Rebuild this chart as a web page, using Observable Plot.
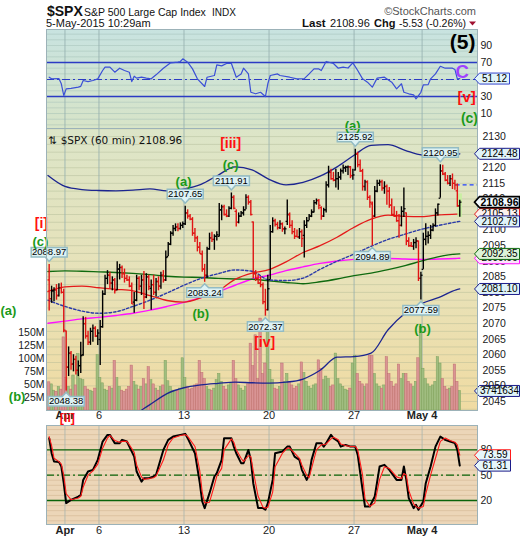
<!DOCTYPE html>
<html>
<head>
<meta charset="utf-8">
<title>$SPX 60 min</title>
<script src="https://cdn.jsdelivr.net/npm/d3@7"></script>
<script src="https://cdn.jsdelivr.net/npm/@observablehq/plot@0.6"></script>
<style>
  html, body { margin: 0; padding: 0; background: #fff; }
  #chart { position: relative; width: 520px; height: 540px; overflow: hidden; font-family: "Liberation Sans", Arial, sans-serif; }
  #chart .panel { position: absolute; left: 46px; width: 431px; }
  #rsi-bg { top: 29px; height: 99px; background: linear-gradient(#c8e3e0, #d7e4c8); }
  #price-bg { top: 128px; height: 282px; background: linear-gradient(#dce5c8, #e8e2b8 55%, #f0dba2); }
  #stoch-bg { top: 425px; height: 99px; background: #ecd6b8; }
</style>
</head>
<body>
<div id="chart">
  <div class="panel" id="rsi-bg"></div>
  <div class="panel" id="price-bg"></div>
  <div class="panel" id="stoch-bg"></div>
  <svg style="position:absolute;left:0;top:0" width="520" height="30" font-family="Liberation Sans, Arial, sans-serif" fill="#111">
    <text x="47" y="15.5" font-size="14" font-weight="bold">$SPX</text>
    <text x="84" y="15.5" font-size="10.5">S&amp;P 500 Large Cap Index</text>
    <text x="212" y="15.5" font-size="10">INDX</text>
    <text x="476" y="15" font-size="11" fill="#555" text-anchor="end">©StockCharts.com</text>
    <text x="46" y="26.5" font-size="11">5-May-2015 10:29am</text>
    <text x="302" y="26.5" font-size="11.5" font-weight="bold">Last</text>
    <text x="330" y="26.5" font-size="11">2108.96</text>
    <text x="374" y="26.5" font-size="11" font-weight="bold">Chg</text>
    <text x="399" y="26.5" font-size="10.5">-5.53 (-0.26%)</text>
    <path d="M469,21.5 L476,21.5 L472.5,25.5 Z" fill="#a01030"/>
  </svg>
</div>
<script>
// ---- hourly bars: [open, high, low, close], Mar 31 through May 5 10:29am ----
const bars = [
  // Mar 31
  [2084.0, 2088.97, 2074.0, 2078.0], [2078.0, 2082.0, 2076.5, 2080.5], [2080.5, 2081.5, 2077.0, 2080.8],
  [2080.8, 2082.5, 2077.5, 2079.0], [2079.0, 2082.8, 2078.5, 2081.5], [2081.5, 2083.0, 2079.5, 2080.0],
  [2080.0, 2081.0, 2067.04, 2067.9],
  // Apr 1
  [2067.6, 2067.6, 2048.38, 2056.0], [2056.0, 2062.5, 2053.0, 2060.5], [2060.5, 2061.0, 2055.0, 2057.0],
  [2057.0, 2060.0, 2054.5, 2058.5], [2058.5, 2059.5, 2053.5, 2055.0], [2055.0, 2058.0, 2053.0, 2056.5],
  [2056.5, 2064.0, 2054.0, 2059.7],
  // Apr 2
  [2060.0, 2072.17, 2059.5, 2070.0], [2070.0, 2072.0, 2065.0, 2066.0], [2066.0, 2067.5, 2063.0, 2064.0],
  [2064.0, 2068.5, 2063.0, 2067.5], [2067.5, 2069.5, 2064.0, 2068.5], [2068.5, 2069.0, 2065.5, 2066.0],
  [2066.0, 2068.0, 2063.0, 2066.96],
  // Apr 6
  [2064.9, 2071.0, 2056.52, 2069.0], [2069.0, 2080.5, 2068.5, 2079.5], [2079.5, 2085.5, 2079.0, 2084.5],
  [2084.5, 2086.99, 2082.5, 2085.5], [2085.5, 2086.5, 2081.0, 2083.0], [2083.0, 2085.0, 2080.5, 2084.0],
  [2084.0, 2084.5, 2079.5, 2080.6],
  // Apr 7
  [2080.8, 2089.81, 2080.5, 2087.5], [2087.5, 2089.0, 2084.0, 2088.0], [2088.0, 2088.5, 2084.5, 2086.0],
  [2086.0, 2087.5, 2083.0, 2084.5], [2084.5, 2085.5, 2083.5, 2084.0], [2084.0, 2085.0, 2081.5, 2082.0],
  [2082.0, 2083.0, 2076.1, 2076.3],
  // Apr 8
  [2076.9, 2080.0, 2073.3, 2077.5], [2077.5, 2085.5, 2077.0, 2084.5], [2084.5, 2085.0, 2080.5, 2082.0],
  [2082.0, 2085.5, 2079.0, 2084.0], [2084.0, 2086.69, 2074.5, 2078.5], [2078.5, 2086.0, 2078.0, 2085.0],
  [2085.0, 2085.5, 2080.5, 2081.9],
  // Apr 9
  [2081.3, 2084.0, 2074.29, 2082.5], [2082.5, 2085.5, 2079.0, 2080.0], [2080.0, 2084.5, 2078.5, 2083.5],
  [2083.5, 2085.0, 2080.5, 2082.0], [2082.0, 2086.5, 2081.0, 2085.5], [2085.5, 2087.0, 2083.0, 2084.0],
  [2084.0, 2093.31, 2083.5, 2091.2],
  // Apr 10
  [2091.5, 2096.0, 2091.5, 2095.5], [2095.5, 2099.5, 2095.0, 2099.0], [2099.0, 2101.5, 2098.0, 2100.5],
  [2100.5, 2102.0, 2099.5, 2101.0], [2101.0, 2102.0, 2099.5, 2100.5], [2100.5, 2102.3, 2100.0, 2101.5],
  [2101.5, 2102.61, 2100.5, 2102.06],
  // Apr 13
  [2102.0, 2107.65, 2101.5, 2105.5], [2105.5, 2106.5, 2103.5, 2104.5], [2104.5, 2105.0, 2103.0, 2103.5],
  [2103.5, 2104.0, 2098.0, 2099.0], [2099.0, 2100.5, 2096.0, 2097.5], [2097.5, 2098.0, 2093.0, 2094.5],
  [2094.5, 2096.0, 2092.33, 2092.43],
  // Apr 14
  [2092.3, 2093.31, 2086.5, 2087.5], [2087.5, 2089.0, 2083.24, 2085.5], [2085.5, 2094.5, 2084.5, 2094.0],
  [2094.0, 2099.0, 2093.5, 2097.5], [2097.5, 2099.3, 2096.0, 2097.0], [2097.0, 2098.5, 2093.5, 2098.0],
  [2098.0, 2099.5, 2096.5, 2098.5],
  // Apr 15
  [2098.0, 2108.5, 2097.8, 2106.5], [2106.5, 2108.0, 2103.0, 2107.5], [2107.5, 2108.0, 2104.5, 2105.0],
  [2105.0, 2106.5, 2104.0, 2104.5], [2104.5, 2107.5, 2104.0, 2107.0], [2107.0, 2111.91, 2106.5, 2110.5],
  [2110.5, 2111.0, 2106.5, 2107.0],
  // Apr 16
  [2106.0, 2106.5, 2101.0, 2102.5], [2102.5, 2105.5, 2102.0, 2104.5], [2104.5, 2106.0, 2104.0, 2105.5],
  [2105.5, 2107.5, 2104.5, 2106.5], [2106.5, 2111.3, 2106.5, 2110.5], [2110.5, 2111.0, 2108.0, 2109.0],
  [2109.0, 2109.5, 2104.5, 2105.0],
  // Apr 17
  [2102.6, 2102.6, 2084.5, 2086.0], [2086.0, 2087.0, 2083.5, 2084.5], [2084.5, 2085.5, 2082.5, 2083.0],
  [2083.0, 2085.0, 2081.5, 2082.5], [2082.5, 2083.0, 2076.0, 2077.0], [2077.0, 2081.0, 2072.37, 2074.5],
  [2074.5, 2085.5, 2074.0, 2081.18],
  // Apr 20
  [2084.1, 2101.5, 2084.1, 2099.5], [2099.5, 2103.94, 2099.0, 2103.0], [2103.0, 2103.5, 2101.0, 2101.8],
  [2101.8, 2102.5, 2100.0, 2100.8], [2100.8, 2103.0, 2100.2, 2102.0], [2102.0, 2102.3, 2099.3, 2100.4],
  [2100.4, 2101.0, 2098.5, 2100.4],
  // Apr 21
  [2102.8, 2109.64, 2101.5, 2105.0], [2105.0, 2105.5, 2100.5, 2101.5], [2101.5, 2103.0, 2098.5, 2099.5],
  [2099.5, 2100.5, 2097.0, 2098.0], [2098.0, 2100.0, 2097.5, 2097.8], [2097.8, 2100.5, 2097.0, 2099.5],
  [2099.5, 2100.0, 2094.38, 2097.29],
  // Apr 22
  [2098.3, 2103.0, 2091.05, 2101.5], [2101.5, 2104.0, 2100.5, 2103.0], [2103.0, 2105.0, 2103.0, 2104.5],
  [2104.5, 2106.5, 2104.0, 2105.8], [2105.8, 2109.5, 2105.5, 2108.8], [2108.8, 2109.98, 2108.0, 2109.5],
  [2109.5, 2109.8, 2106.5, 2107.96],
  // Apr 23
  [2107.2, 2107.5, 2103.19, 2104.5], [2104.5, 2107.0, 2104.0, 2106.5], [2106.5, 2115.5, 2105.5, 2114.5],
  [2114.5, 2120.49, 2113.5, 2118.5], [2118.5, 2119.5, 2116.0, 2116.5], [2116.5, 2118.5, 2115.5, 2116.0],
  [2116.0, 2119.5, 2113.5, 2116.5],
  // Apr 24
  [2116.5, 2118.5, 2112.8, 2117.0], [2117.0, 2119.6, 2116.0, 2119.0], [2119.0, 2120.92, 2118.0, 2120.0],
  [2120.0, 2120.5, 2118.5, 2120.2], [2120.2, 2120.6, 2117.5, 2120.3], [2120.3, 2120.4, 2116.5, 2117.5],
  [2117.5, 2119.5, 2116.0, 2117.69],
  // Apr 27
  [2119.3, 2125.92, 2119.0, 2124.5], [2124.5, 2125.0, 2120.0, 2121.0], [2121.0, 2122.5, 2118.5, 2119.0],
  [2119.0, 2119.5, 2112.5, 2114.0], [2114.0, 2116.0, 2112.5, 2115.5], [2115.5, 2115.8, 2109.5, 2110.5],
  [2110.5, 2111.0, 2107.04, 2108.92],
  // Apr 28
  [2108.4, 2109.0, 2094.89, 2104.5], [2104.5, 2114.0, 2104.0, 2112.5], [2112.5, 2116.0, 2112.0, 2115.0],
  [2115.0, 2116.04, 2114.0, 2115.5], [2115.5, 2116.0, 2112.5, 2113.5], [2113.5, 2115.5, 2111.5, 2114.0],
  [2114.0, 2114.5, 2108.0, 2112.5],
  // Apr 29
  [2112.5, 2113.65, 2107.0, 2108.0], [2108.0, 2110.0, 2104.5, 2105.0], [2105.0, 2107.5, 2104.0, 2104.5],
  [2104.5, 2106.0, 2102.5, 2103.0], [2103.0, 2105.0, 2097.41, 2101.5], [2101.5, 2107.5, 2101.0, 2106.0],
  [2106.0, 2113.5, 2104.0, 2106.85],
  // Apr 30
  [2105.5, 2105.52, 2095.0, 2096.5], [2096.5, 2097.5, 2094.5, 2095.0], [2095.0, 2096.0, 2094.5, 2094.8],
  [2094.8, 2097.0, 2093.5, 2096.0], [2096.0, 2097.5, 2094.0, 2096.5], [2096.5, 2096.5, 2083.5, 2084.5],
  [2084.5, 2086.5, 2077.59, 2085.51],
  // May 1
  [2087.4, 2099.0, 2087.38, 2097.0], [2097.0, 2102.0, 2095.0, 2098.0], [2098.0, 2099.5, 2095.5, 2098.3],
  [2098.3, 2101.5, 2097.0, 2100.0], [2100.0, 2102.0, 2099.5, 2101.5], [2101.5, 2106.8, 2101.0, 2105.5],
  [2105.5, 2108.41, 2104.5, 2108.29],
  // May 4
  [2110.23, 2120.95, 2110.23, 2119.0], [2119.0, 2120.8, 2117.5, 2118.0], [2118.0, 2118.5, 2115.5, 2116.0],
  [2116.0, 2117.5, 2114.5, 2115.0], [2115.0, 2117.5, 2114.0, 2116.5], [2116.5, 2118.0, 2113.0, 2115.0],
  [2115.0, 2116.0, 2112.8, 2114.49],
  // May 5
  [2112.6, 2114.8, 2107.3, 2107.8], [2107.8, 2109.6, 2104.1, 2108.96]
];

// hourly volume, millions of shares
const volume = [
  54, 50, 38, 36, 45, 40, 140,
  62, 45, 40, 67, 48, 108, 60,
  58, 45, 40, 38, 36, 42, 106,
  62, 52, 40, 38, 45, 42, 95,
  62, 45, 38, 36, 40, 45, 86,
  55, 48, 40, 45, 60, 50, 83,
  58, 50, 42, 38, 45, 48, 95,
  56, 45, 38, 35, 38, 42, 100,
  62, 45, 40, 42, 48, 50, 95,
  72, 60, 45, 40, 38, 42, 58,
  70, 55, 45, 40, 48, 52, 95,
  60, 48, 42, 38, 45, 50, 128,
  85, 144, 60, 176, 70, 90, 150,
  78, 58, 42, 40, 45, 90, 55,
  70, 55, 48, 42, 45, 50, 92,
  72, 55, 45, 42, 48, 50, 96,
  80, 58, 65, 60, 45, 48, 109,
  60, 50, 45, 40, 38, 42, 90,
  105, 70, 55, 50, 45, 50, 105,
  105, 70, 50, 45, 42, 48, 102,
  70, 55, 45, 50, 88, 60, 70,
  70, 55, 50, 45, 55, 100, 160,
  80, 60, 50, 45, 48, 55, 102,
  90, 60, 45, 40, 42, 45, 88,
  55, 37.41634
];
const prevClose = 2114.49;

// overlay series, sampled at each session open (bar position) and at the last bar
const overlayAt  = [-0.5, 6.5, 13.5, 20.5, 27.5, 34.5, 41.5, 48.5, 55.5, 62.5, 69.5, 76.5, 83.5, 90.5, 97.5, 104.5, 111.5, 118.5, 125.5, 132.5, 139.5, 146.5, 153.5, 160.5, 167.5, 169];
const upperBand  = [2117.5, 2114, 2113, 2112.7, 2112.6, 2112.8, 2113.2, 2112.6, 2113.2, 2114.7, 2117.6, 2120.3, 2119.3, 2116.3, 2114.5, 2115.3, 2117.3, 2120.3, 2124, 2127.2, 2127.4, 2125.6, 2124.1, 2123.9, 2124.2, 2124.48];
const redAverage = [2080.3, 2081.8, 2082, 2081.5, 2081, 2080.5, 2079, 2077.4, 2076.9, 2078.3, 2080.5, 2084.2, 2086.2, 2087.3, 2089.8, 2092.8, 2095, 2097.7, 2100.9, 2103.5, 2104.8, 2104.4, 2104.3, 2104.9, 2105.1, 2105.13];
const blueAverage = [2077.5, 2075.5, 2074, 2073.3, 2073.8, 2075.5, 2077.5, 2079.8, 2082.3, 2084.5, 2086, 2087.2, 2086.8, 2084, 2083.8, 2084.6, 2087.4, 2090, 2092.3, 2094.8, 2097, 2098.7, 2100.3, 2101.5, 2102.6, 2102.79];
const greenAverage = [2086.7, 2086.9, 2086.8, 2086.6, 2086.4, 2086.1, 2085.7, 2085.2, 2084.9, 2084.8, 2084.5, 2084.3, 2084.2, 2083.7, 2083.2, 2082.8, 2083.4, 2084.3, 2085.4, 2086.2, 2087.3, 2088.6, 2090.1, 2091.5, 2092.3, 2092.35];
const magentaAverage = [2070.1, 2070.8, 2071.5, 2072, 2072.6, 2073.3, 2074.3, 2075.5, 2076.8, 2078.3, 2080.2, 2082.3, 2084.3, 2085.5, 2087, 2088.2, 2089.3, 2090.1, 2090.6, 2090.8, 2090.9, 2090.7, 2090.6, 2090.7, 2090.9, 2090.96];
const lowerBand  = [2030, 2031, 2033, 2035, 2038, 2040.5, 2044, 2047.5, 2049.4, 2050.3, 2050.8, 2051.2, 2051, 2050.9, 2051.2, 2052.2, 2055, 2059.2, 2059.4, 2060.5, 2068, 2073.3, 2076.5, 2078.4, 2080.8, 2081.10];

// RSI(14): [bar, value]
const rsiPoints = [
  [0,52.7],[1,50.8],[4,51.2],[5,45],[6,31.2],[7,39],[9,39.6],[12,41],[13,42],[14,48.8],[16,47.6],[18,48.8],
  [20,50.8],[22,60.6],[23,64.5],[25,64.5],[27,58.6],[29,63.3],[31,60.6],[33,58.6],[34,47.6],[35,53.9],[36,51.6],
  [38,52.7],[40,51.6],[42,50.8],[44,55.5],[47,63.3],[50,69.6],[53,70.4],[54,71.2],[55,74.3],[57,70.4],[59,62.5],
  [61,50.8],[64,41.8],[65,52.7],[68,54.7],[69,67.3],[71,66],[73,68.8],[75,68.8],[77,52.7],[79,56.6],[80,63.3],
  [82,56.6],[83,35],[85,33.2],[87,35],[89,30],[90,45],[91,54.7],[94,56.6],[95,54.7],[99,52.7],[102,50.8],
  [105,51],[107,56.6],[109,62.5],[111,62.5],[112,60.6],[114,71.2],[117,68.8],[119,63.3],[121,64.5],[123,63.5],
  [125,69.6],[127,60.6],[129,50.8],[131,46.9],[133,41],[135,51.6],[138,52.7],[141,46.9],[143,39],[145,45],
  [146,35],[148,33.2],[150,32],[151,27.3],[153,35],[154,43.7],[156,44],[157,50.8],[159,56.6],[161,65.6],
  [163,63.3],[166,63.3],[167,61.8],[168,50.8],[169,51.12]
];

// Slow stochastics: [bar, %K, %D]
const stochPoints = [
  [0,93.8,95.7],[1,76,85],[2,66.1,70],[4,65.7,66],[5,60.2,63],[6,40.5,50],[7,16.9,28],[9,20.8,21],[12,24.7,23],
  [13,26.6,25],[14,44.4,36],[16,54.3,50],[18,56.3,55],[20,68.1,63],[22,89.8,82],[24,97.7,94],[25,97.7,97],
  [27,87.9,91],[29,87.9,89],[30,91.8,90],[32,89.8,90],[33,83.8,86],[35,72,77],[36,54.3,62],[38,42.4,48],
  [39,46.3,45],[41,46.3,46],[43,48.4,47],[44,50.4,49],[47,79.9,68],[49,91.8,86],[51,95.7,94],[54,97.7,97],
  [56,98.9,98],[57,93.8,96],[60,76,84],[62,40.5,55],[63,18.8,30],[64,11,17],[66,28.7,18],[68,48.4,38],
  [69,52.4,49],[71,68.1,58],[72,93.8,80],[75,93.8,93],[76,83.8,89],[77,76,80],[79,64.2,70],[80,64.2,66],
  [82,79.9,73],[83,68.1,72],[84,40.5,55],[86,11,25],[88,11,12],[89,9,11],[90,16.9,12],[92,44.4,30],[93,76,60],
  [96,78,76],[98,83.8,82],[99,83.8,82],[101,72,76],[103,68.1,70],[104,56.3,62],[106,44.4,50],[107,50.4,47],
  [108,68.1,58],[110,87.9,80],[112,87.9,86],[113,83.8,86],[114,87.9,87],[116,97.7,93],[117,93.8,95],
  [119,89.8,92],[120,83.8,87],[122,85.8,85],[124,83.8,84],[126,83.8,84],[127,74,80],[129,32.6,50],
  [130,12.9,22],[132,12.9,13],[134,24.7,17],[136,60.2,45],[138,62.2,60],[140,56.3,58],[143,44.4,48],
  [145,44.4,46],[146,60.2,52],[147,44.4,50],[148,22.8,32],[150,11,16],[151,14.9,13],[152,9,11],[154,18.8,13],
  [155,40.5,28],[157,60.2,50],[159,83.8,70],[161,95.7,90],[163,91.8,94],[165,89.8,91],[167,87.9,89],
  [168,79.9,86],[169,61.31,73.59]
];

// x-axis labels and their bar positions
const tickAt   = [6.5, 20.5, 55.5, 90.5, 125.5, 153.5];
const tickText = ["Apr", "6", "13", "20", "27", "May 4"];
const tickBold = [true, false, false, false, false, true];

const priceTicks = [2045, 2050, 2055, 2060, 2065, 2070, 2075, 2080, 2085, 2090, 2095, 2100, 2105, 2110, 2115, 2120, 2125, 2130];
const volumeTicks = [25, 50, 75, 100, 125, 150];
const rsiTicks = [10, 30, 50, 70, 90];
const stochTicks = [20, 50, 80];

// high / low callouts (bar positions)
const highCalloutBars = [0, 56, 75, 126, 161];
const lowCalloutBars  = [7, 64, 89, 133, 153];

// Elliott-wave annotations on the price pane: text, bar, price
const waveText  = ["[iii]", "(c)", "(a)", "[i]", "(c)", "(a)", "(b)", "(b)", "[iv]", "(b)", "(a)"];
const waveBar   = [74.7, 74.7, 55.3, -3.2, -3.6, -16.8, -13.2, 62.4, 88.7, 153.7, 124.9];
const wavePrice = [2127.8, 2121, 2115.6, 2102.1, 2096.3, 2074.2, 2046.6, 2073.2, 2064, 2068.4, 2133.5];
const waveIi    = {text: "[ii]", bar: 7.5, price: 2039.6};

// ---------------- drawing ----------------
const chart = document.getElementById("chart");
const FONT = "Liberation Sans, Arial, sans-serif";
const W = 520;
const X_DOMAIN = [-1.1, 176.3];
const X_RIGHT = X_DOMAIN[1];
const FRAME = "#9cb2b8";
const UP = "#000000", DOWN = "#e01414";
const GREEN = "#1a9a1a", RED = "#ff1010";
const baseStyle = {background: "none", overflow: "visible", fontFamily: FONT, fontSize: "10.5px", color: "#1a1a1a"};
const plain = d => String(d);

function place(svg, top) {
  svg.style.position = "absolute";
  svg.style.left = "0px";
  svg.style.top = top + "px";
  chart.appendChild(svg);
}

const series = (values) => overlayAt.map((i, k) => ({i, v: values[k]}));
const ohlc = bars.map(([o, h, l, c], i) => ({i, o, h, l, c, up: i === 0 ? c >= o : c >= bars[i - 1][3]}));
const vol = volume.map((v, i) => ({i, v, up: ohlc[i].up}));
const last = ohlc[ohlc.length - 1];
const xTicks = tickAt.map((i, k) => ({i, t: tickText[k], bold: tickBold[k]}));

// value tag on the right-hand scale: pointed left end, w px wide body
function tagShape(w) {
  return {draw(ctx) {
    ctx.moveTo(-3, 0); ctx.lineTo(2, -5.5); ctx.lineTo(2 + w, -5.5);
    ctx.lineTo(2 + w, 5.5); ctx.lineTo(2, 5.5); ctx.closePath();
  }};
}
function tag(value, text, {w = 40, stroke = "#1c1c8a", fill = "#dff3f8", bold = false} = {}) {
  const at = [{x: X_RIGHT, y: value}];
  return [
    Plot.dot(at, {x: "x", y: "y", symbol: tagShape(w), r: 5, fill, stroke, strokeWidth: bold ? 1.6 : 1}),
    Plot.text(at, {x: "x", y: "y", dx: 2 + w / 2, text: () => text, textAnchor: "middle",
      fontSize: bold ? 10.5 : 10, fontWeight: bold ? "bold" : "normal", fill: "#000", fontFamily: FONT})
  ];
}
// callout boxes above highs / below lows
const calloutAbove = {draw(ctx) {
  ctx.moveTo(0, -3); ctx.lineTo(-4, -7.5); ctx.lineTo(-18, -7.5); ctx.lineTo(-18, -17);
  ctx.lineTo(18, -17); ctx.lineTo(18, -7.5); ctx.lineTo(4, -7.5); ctx.closePath();
}};
const calloutBelow = {draw(ctx) {
  ctx.moveTo(0, 1.5); ctx.lineTo(4, 5.5); ctx.lineTo(18, 5.5); ctx.lineTo(18, 15);
  ctx.lineTo(-18, 15); ctx.lineTo(-18, 5.5); ctx.lineTo(-4, 5.5); ctx.closePath();
}};

// ---- RSI pane ----
const rsi = rsiPoints.map(([i, v]) => ({i, v}));
const rsiLast = rsi[rsi.length - 1].v;
place(Plot.plot({
  width: W, height: 128, marginTop: 29, marginBottom: 0, marginLeft: 46, marginRight: 43,
  style: baseStyle,
  x: {domain: X_DOMAIN, axis: null},
  y: {domain: [-7.6, 108.8], axis: "right", ticks: rsiTicks, tickFormat: plain, tickSize: 0, tickPadding: 3, label: null},
  marks: [
    Plot.ruleY(d3.range(-10 / 3, 108, 20 / 3), {stroke: "#9fbcb3", strokeOpacity: 0.45}),
    Plot.ruleX(tickAt, {stroke: "#93aeae", strokeOpacity: 0.8}),
    Plot.ruleY([70, 30], {stroke: "#2b3bc4", strokeWidth: 1.3}),
    Plot.ruleY([50], {stroke: "#2b3bc4", strokeWidth: 1.1, strokeDasharray: "8,3,2,3"}),
    Plot.line(rsi, {x: "i", y: "v", stroke: "#3b4fd6", strokeWidth: 1.2}),
    Plot.text(["(5)"], {x: () => 170.2, y: () => 93.9, text: d => d, fontSize: 21, fontWeight: "bold", fill: "#000", fontFamily: FONT}),
    Plot.text(["C"], {x: () => 170, y: () => 58.7, text: d => d, fontSize: 18.5, fontWeight: "bold", fill: "#a040ff", fontFamily: FONT}),
    Plot.text(["[v]"], {x: () => 171.8, y: () => 29, text: d => d, fontSize: 15, fontWeight: "bold", fill: RED, fontFamily: FONT}),
    Plot.text(["(c)"], {x: () => 173, y: () => 3.7, text: d => d, fontSize: 14, fontWeight: "bold", fill: GREEN, fontFamily: FONT}),
    Plot.frame({stroke: FRAME}),
    ...tag(rsiLast, rsiLast.toFixed(2), {w: 30, stroke: "#3344cc", fill: "#e2f5fa"})
  ]
}), 0);

// ---- price pane: grid layer ----
const priceY = {domain: [2042.1, 2132.6]};
place(Plot.plot({
  width: W, height: 297, marginTop: 0, marginBottom: 15, marginLeft: 46, marginRight: 43,
  style: baseStyle,
  x: {domain: X_DOMAIN, axis: null},
  y: {...priceY, axis: null},
  marks: [
    Plot.ruleY(d3.range(2042.5, 2132.6, 2.5), {stroke: "#aab592", strokeOpacity: 0.4}),
    Plot.ruleX(tickAt, {stroke: "#93aeae", strokeOpacity: 0.8})
  ]
}), 128);

// ---- price pane: volume layer ----
const lastVolume = volume[volume.length - 1];
place(Plot.plot({
  width: W, height: 297, marginTop: 0, marginBottom: 15, marginLeft: 46, marginRight: 43,
  style: baseStyle,
  x: {domain: X_DOMAIN, axis: null},
  y: {domain: [0, 540], axis: "left", ticks: volumeTicks, tickFormat: d => d + "M", tickSize: 0, tickPadding: 2, label: null},
  marks: [
    Plot.rect(vol.filter(d => d.up), {x1: d => d.i - 0.5, x2: d => d.i + 0.5, y1: 0, y2: "v", fill: "#a0bd80", stroke: "#7ea25c", strokeWidth: 0.5}),
    Plot.rect(vol.filter(d => !d.up), {x1: d => d.i - 0.5, x2: d => d.i + 0.5, y1: 0, y2: "v", fill: "#d99494", stroke: "#bf7070", strokeWidth: 0.5}),
    ...tag(lastVolume, String(Math.round(lastVolume * 1e6)).slice(0, 7), {stroke: "#1c1c8a"})
  ]
}), 128);

// ---- price pane: overlays, bars, labels ----
const highs = highCalloutBars.map(i => ({i, v: ohlc[i].h}));
const lows = lowCalloutBars.map(i => ({i, v: ohlc[i].l}));
const waves = waveText.map((t, k) => ({t, i: waveBar[k], p: wavePrice[k]}));
const bullish = ohlc.filter(d => d.up), bearish = ohlc.filter(d => !d.up);
const barMarks = (data, stroke) => [
  Plot.ruleX(data, {x: "i", y1: "l", y2: "h", stroke, strokeWidth: 1.4}),
  Plot.link(data, {x1: d => d.i - 0.7, x2: "i", y1: "o", y2: "o", stroke, strokeWidth: 1.3}),
  Plot.link(data, {x1: "i", x2: d => d.i + 0.7, y1: "c", y2: "c", stroke, strokeWidth: 1.3})
];
const curve = "monotone-x";
place(Plot.plot({
  width: W, height: 297, marginTop: 0, marginBottom: 15, marginLeft: 46, marginRight: 43,
  style: baseStyle,
  x: {domain: X_DOMAIN, axis: null},
  y: {...priceY, axis: "right", ticks: priceTicks, tickFormat: plain, tickSize: 0, tickPadding: 5, label: null},
  marks: [
    Plot.line(series(lowerBand), {x: "i", y: "v", stroke: "#1c2590", strokeWidth: 1.3, curve, clip: true}),
    Plot.line(series(magentaAverage), {x: "i", y: "v", stroke: "#ff10ff", strokeWidth: 1.4, curve}),
    Plot.line(series(greenAverage), {x: "i", y: "v", stroke: "#0f6a0f", strokeWidth: 1.4, curve}),
    Plot.line(series(blueAverage), {x: "i", y: "v", stroke: "#2a3aa8", strokeWidth: 1.4, strokeDasharray: "2.5,2", curve}),
    Plot.line(series(redAverage), {x: "i", y: "v", stroke: "#e41a1a", strokeWidth: 1.3, curve}),
    Plot.line(series(upperBand), {x: "i", y: "v", stroke: "#1c2590", strokeWidth: 1.3, curve}),
    Plot.ruleY([prevClose], {x1: () => 167.5, x2: () => X_RIGHT, stroke: "#2040ff", strokeWidth: 1.2, strokeDasharray: "4,3"}),
    Plot.rect([last], {x1: d => d.i - 0.8, x2: d => d.i + 1.1, y1: "l", y2: d => d.h + 2, fill: "#c6f0a0", fillOpacity: 0.9}),
    ...barMarks(bullish, UP),
    ...barMarks(bearish, DOWN),
    Plot.dot(highs, {x: "i", y: "v", symbol: calloutAbove, fill: "#ddf2f4", stroke: "#93bcc4"}),
    Plot.text(highs, {x: "i", y: "v", dy: -12, text: d => d.v.toFixed(2), fontSize: 9.5, fill: "#000", fontFamily: FONT}),
    Plot.dot(lows, {x: "i", y: "v", symbol: calloutBelow, fill: "#ddf2f4", stroke: "#93bcc4"}),
    Plot.text(lows, {x: "i", y: "v", dy: 10.5, text: d => d.v.toFixed(2), fontSize: 9.5, fill: "#000", fontFamily: FONT}),
    Plot.text([`\u21c5 $SPX (60 min) ${last.c.toFixed(2)}`], {frameAnchor: "top-left", dx: 2, dy: 8, textAnchor: "start",
      text: d => d, fontSize: 10.5, fill: "#111", fontFamily: "DejaVu Sans, Verdana, sans-serif"}),
    Plot.text(xTicks.filter(d => d.bold), {x: "i", frameAnchor: "bottom", dy: 8, text: "t", fontSize: 11, fontWeight: "bold", fill: "#222", fontFamily: FONT}),
    Plot.text(xTicks.filter(d => !d.bold), {x: "i", frameAnchor: "bottom", dy: 8, text: "t", fontSize: 11, fill: "#222", fontFamily: FONT}),
    Plot.text(waves.filter(d => d.t.startsWith("(")), {x: "i", y: "p", text: "t", fontSize: 13, fontWeight: "bold", fill: GREEN, fontFamily: FONT}),
    Plot.text(waves.filter(d => d.t.startsWith("[")), {x: "i", y: "p", text: "t", fontSize: 14, fontWeight: "bold", fill: RED, fontFamily: FONT}),
    Plot.text([waveIi], {x: "bar", y: "price", text: "text", fontSize: 12.5, fontWeight: "bold", fill: RED, fontFamily: FONT}),
    Plot.frame({stroke: FRAME}),
    ...tag(upperBand[upperBand.length - 1], upperBand[upperBand.length - 1].toFixed(2)),
    ...tag(redAverage[redAverage.length - 1], redAverage[redAverage.length - 1].toFixed(2), {stroke: "#e41a1a", fill: "#fbf1ee"}),
    ...tag(last.c, last.c.toFixed(2), {stroke: "#000", fill: "#f3fbff", bold: true}),
    ...tag(blueAverage[blueAverage.length - 1], blueAverage[blueAverage.length - 1].toFixed(2)),
    ...tag(magentaAverage[magentaAverage.length - 1], magentaAverage[magentaAverage.length - 1].toFixed(2), {stroke: "#ff10ff", fill: "#fbe6fb"}),
    ...tag(greenAverage[greenAverage.length - 1], greenAverage[greenAverage.length - 1].toFixed(2), {stroke: "#0f6a0f", fill: "#ddf3d8"}),
    ...tag(lowerBand[lowerBand.length - 1], lowerBand[lowerBand.length - 1].toFixed(2))
  ]
}), 128);

// ---- stochastics pane ----
const stoch = stochPoints.map(([i, k, d]) => ({i, k, d}));
const stochLast = stoch[stoch.length - 1];
place(Plot.plot({
  width: W, height: 115, marginTop: 0, marginBottom: 16, marginLeft: 46, marginRight: 43,
  style: baseStyle,
  x: {domain: X_DOMAIN, axis: null},
  y: {domain: [-8.4, 108.8], axis: "right", ticks: stochTicks, tickFormat: plain, tickSize: 0, tickPadding: 3, label: null},
  marks: [
    Plot.ruleY(d3.range(-4, 108, 6), {stroke: "#d9bf9c", strokeOpacity: 0.8}),
    Plot.ruleX(tickAt, {stroke: "#a8b4ac", strokeOpacity: 0.8}),
    Plot.ruleY([80, 20], {stroke: "#0a640a", strokeWidth: 1.3}),
    Plot.ruleY([50], {stroke: "#0a640a", strokeWidth: 1.1, strokeDasharray: "8,3,2,3"}),
    Plot.line(stoch, {x: "i", y: "k", stroke: "#000", strokeWidth: 2}),
    Plot.line(stoch, {x: "i", y: "d", stroke: "#ff1a1a", strokeWidth: 1.1}),
    Plot.text(xTicks.filter(d => d.bold), {x: "i", frameAnchor: "bottom", dy: 9, text: "t", fontSize: 11, fontWeight: "bold", fill: "#222", fontFamily: FONT}),
    Plot.text(xTicks.filter(d => !d.bold), {x: "i", frameAnchor: "bottom", dy: 9, text: "t", fontSize: 11, fill: "#222", fontFamily: FONT}),
    Plot.frame({stroke: FRAME}),
    ...tag(stochLast.d, stochLast.d.toFixed(2), {w: 31, stroke: "#ff1a1a", fill: "#e6f7fb"}),
    ...tag(stochLast.k, stochLast.k.toFixed(2), {w: 31, stroke: "#1c1c8a", fill: "#e6f7fb"})
  ]
}), 425);
</script>
</body>
</html>
